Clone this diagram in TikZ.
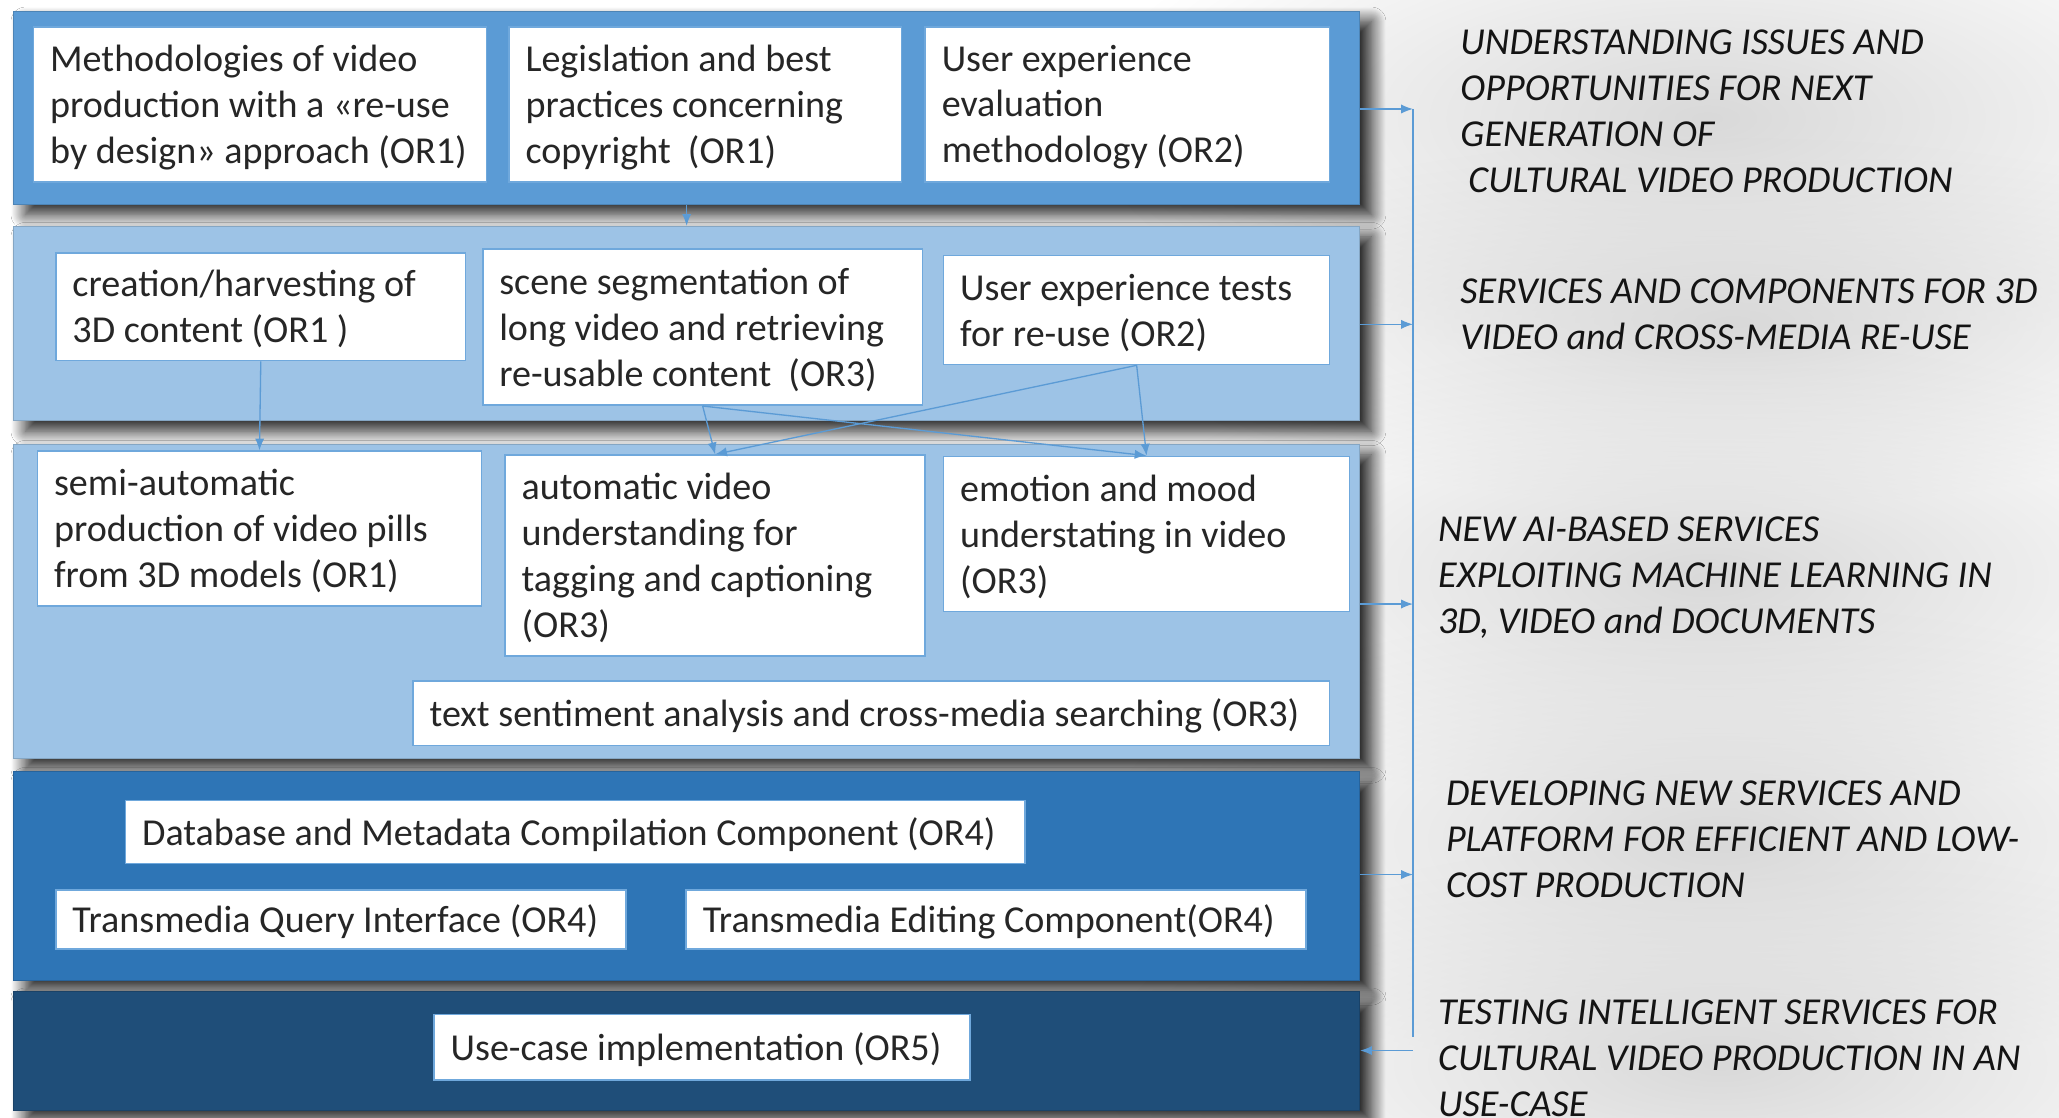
\documentclass[tikz,border=0pt]{standalone}
\usepackage{fontspec}
\setmainfont{Carlito}
\usetikzlibrary{arrows.meta,shadows.blur,fadings}
\definecolor{bandA}{HTML}{5B9BD5}
\definecolor{bandL}{HTML}{9DC3E6}
\definecolor{bandM}{HTML}{2E75B6}
\definecolor{bandD}{HTML}{1F4E79}
\definecolor{conncol}{HTML}{5B9BD5}
\definecolor{boxline}{HTML}{6FA8DC}
\definecolor{txtcol}{HTML}{262626}
\tikzfading[name=softblob, inner color=transparent!0, outer color=transparent!100]
\tikzset{
  band/.style={draw=#1!85!black, fill=#1, line width=0.8pt, anchor=north west, inner sep=0pt,
    blur shadow={shadow xshift=9pt, shadow yshift=-8pt, shadow blur radius=11pt, shadow blur steps=24, shadow opacity=90}},
  wbox/.style={draw=boxline, fill=white, line width=1.2pt, anchor=north west, inner sep=0pt},
  wtxt/.style={anchor=west, align=left, inner sep=0pt, text=txtcol, font=\fontsize{29}{35}\selectfont},
  rtxt/.style={anchor=west, align=left, inner sep=0pt, text=black!92, font=\itshape\fontsize{29}{35}\selectfont},
  conn/.style={draw=conncol, line width=1pt},
  arr/.style={conn, -{Latex[length=9pt,width=7pt]}},
  halo/.style={fill=black!15, path fading=softblob}
}
\newcommand\wbx[6]{%
  \node[wbox, minimum width={#4-#2}, minimum height={#5-#3}] (#1) at (#2,#3) {};
  \node[wtxt] (#1t) at ([xshift=13pt,yshift=-2pt]#1.west) {#6};
}
\begin{document}
\begin{tikzpicture}[x=1pt,y=-1pt]
\useasboundingbox[fill=white] (0,0) rectangle (1568,851);
% soft halos on the right
\fill[halo] (1300,90) ellipse (470 and 190);
\fill[halo] (1320,245) ellipse (470 and 140);
\fill[halo] (1300,440) ellipse (470 and 180);
\fill[halo] (1310,640) ellipse (470 and 180);
\fill[halo] (1310,810) ellipse (470 and 170);
% bands
\node[band=bandA, minimum width=1025pt, minimum height=147pt] (b1) at (10,8) {};
\node[band=bandL, minimum width=1025pt, minimum height=148pt] (b2) at (10,172) {};
\node[band=bandL, minimum width=1025pt, minimum height=239pt] (b3) at (10,338) {};
\node[band=bandM, minimum width=1025pt, minimum height=159pt] (b4) at (10,587) {};
\node[band=bandD, minimum width=1025pt, minimum height=90pt] (b5) at (10,755) {};
% band 1
\wbx{A}{25}{20}{370}{138}{Methodologies of video\\production with a «re-use\\by design» approach (OR1)}
\wbx{B}{387}{20}{686}{138}{Legislation and best\\practices concerning\\copyright\ \ (OR1)}
\wbx{C}{704}{20}{1012}{138}{User experience\\evaluation\\methodology (OR2)}
% band 2
\wbx{D}{42}{192}{354}{274}{creation/harvesting of\\3D content (OR1 )}
\wbx{E}{367}{189}{702}{308}{scene segmentation of\\long video and retrieving\\re-usable content\ \ (OR3)}
\wbx{F}{718}{194}{1012}{277}{User experience tests\\for re-use (OR2)}
% band 3
\wbx{G}{28}{343}{366}{461}{semi-automatic\\production of video pills\\from 3D models (OR1)}
\wbx{H}{384}{346}{704}{499}{automatic video\\understanding for\\tagging and captioning\\(OR3)}
\wbx{I}{718}{347}{1027}{465}{emotion and mood\\understating in video\\(OR3)}
\wbx{J}{314}{518}{1012}{567}{text sentiment analysis and cross-media\ searching (OR3)}
% band 4
\wbx{K}{95}{609}{780}{657}{Database and Metadata Compilation Component (OR4)}
\wbx{L}{42}{677}{476}{722}{Transmedia Query Interface (OR4)}
\wbx{M}{522}{677}{994}{722}{Transmedia Editing Component(OR4)}
% band 5
\wbx{N}{330}{772}{738}{822}{Use-case implementation (OR5)}
% internal connectors
\draw[arr] (b1.south) -- (b2.north);
\draw[arr] (D.south) -- (G.north);
\draw[arr] (E.south) -- (H.north);
\draw[arr] (E.south) -- (I.north);
\draw[arr] (F.south) -- (H.north);
\draw[arr] (F.south) -- (I.north);
% right side bus
\coordinate (v1) at (1076,83);
\coordinate (v2) at (1076,247);
\coordinate (v3) at (1076,460);
\coordinate (v4) at (1076,666);
\coordinate (vend) at (1076,790);
\coordinate (v5) at (1076,800);
\draw[conn] (v1) -- (vend);
\draw[arr] (b1.east |- v1) -- (v1);
\draw[arr] (b2.east |- v2) -- (v2);
\draw[arr] (b3.east |- v3) -- (v3);
\draw[arr] (b4.east |- v4) -- (v4);
\draw[arr] (v5) -- (v5 -| b5.east);
% right texts
\node[rtxt] (t1) at (1112,84.5) {UNDERSTANDING ISSUES AND\\OPPORTUNITIES FOR NEXT\\GENERATION OF\\\hspace*{6pt}CULTURAL VIDEO PRODUCTION};
\node[rtxt] (t2) at (1112,239.5) {SERVICES AND COMPONENTS FOR 3D\\VIDEO and CROSS-MEDIA RE-USE};
\node[rtxt] (t3) at (1095,440) {NEW AI-BASED SERVICES\\EXPLOITING MACHINE LEARNING IN\\3D, VIDEO and DOCUMENTS};
\node[rtxt] (t4) at (1101,639) {DEVELOPING NEW SERVICES AND\\PLATFORM FOR EFFICIENT AND LOW-\\COST PRODUCTION};
\node[rtxt] (t5) at (1095,806) {TESTING INTELLIGENT SERVICES FOR\\CULTURAL VIDEO PRODUCTION IN AN\\USE-CASE};
\end{tikzpicture}
\end{document}
